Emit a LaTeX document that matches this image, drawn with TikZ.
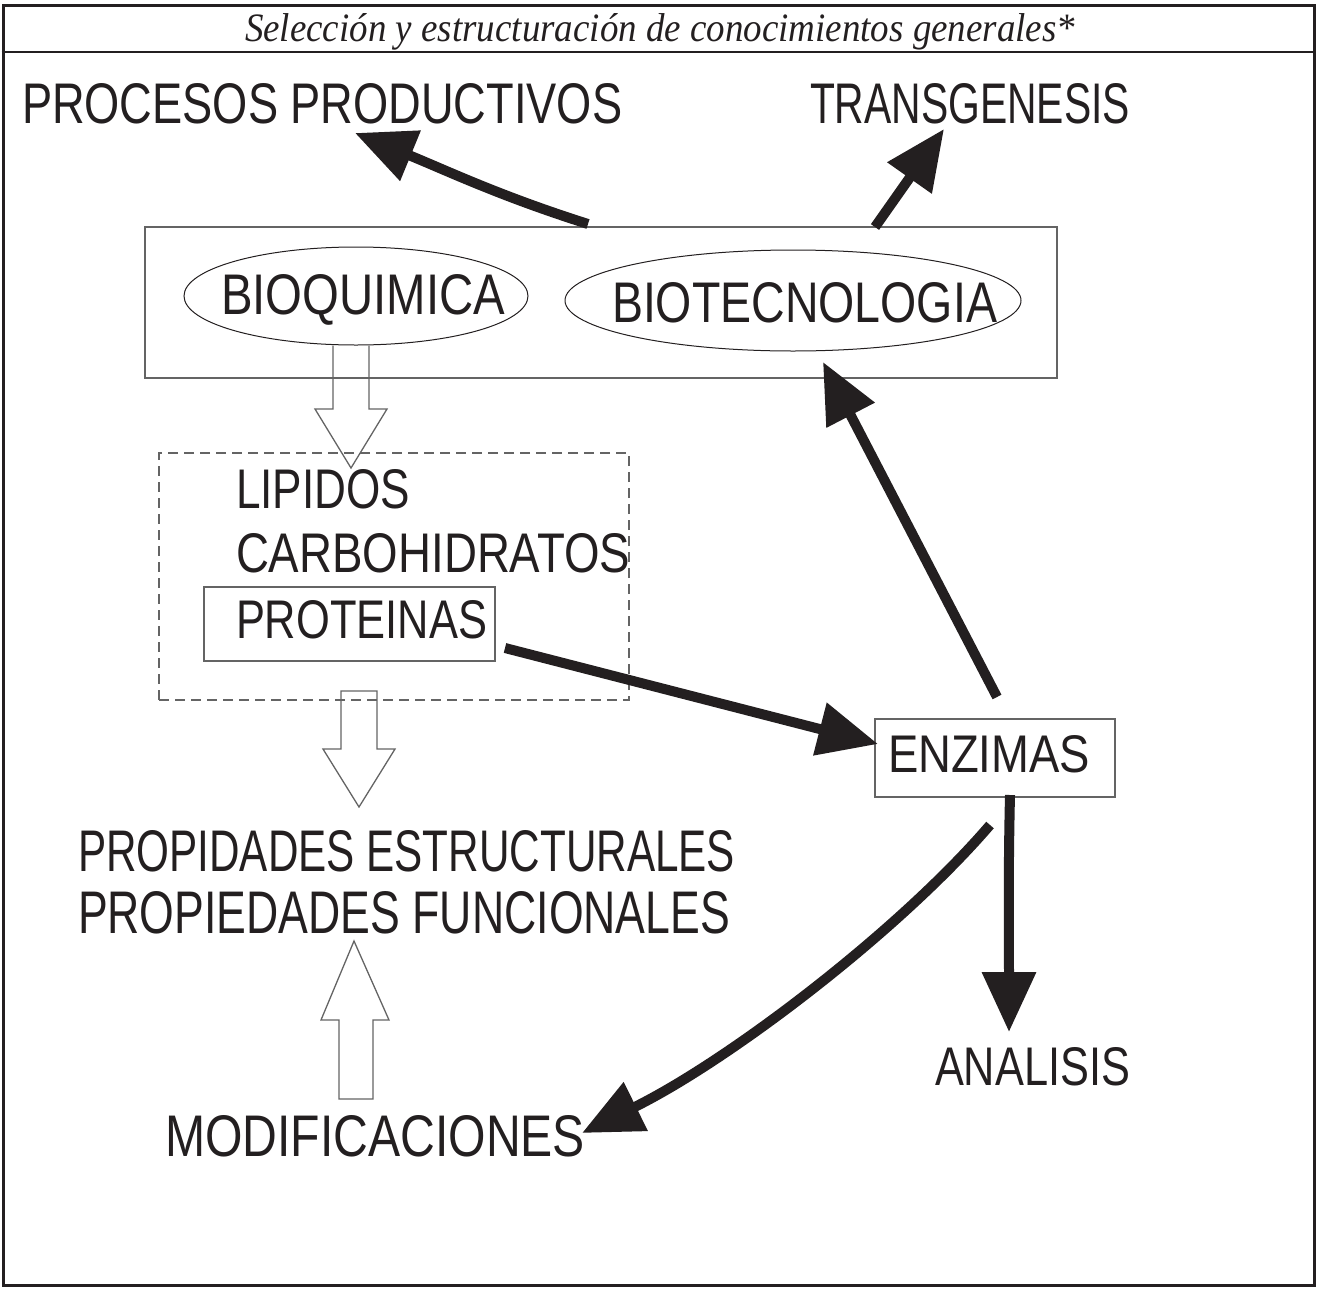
\documentclass[tikz,border=0pt]{standalone}
\usepackage{graphicx}
\usepackage{fontspec}
\setmainfont{Liberation Sans}
\newfontfamily\titlefont{Liberation Serif}
\usetikzlibrary{arrows.meta,shapes.geometric}
\definecolor{ink}{RGB}{35,31,32}
\definecolor{boxline}{RGB}{100,100,100}
\newcommand{\fitlbl}[3]{\resizebox{#1pt}{#2pt}{#3}}
\tikzset{
  lbl/.style={inner sep=0pt, outer sep=0pt, anchor=base west, text=ink},
  thinbox/.style={draw=boxline, line width=1.3pt, inner sep=0pt, rectangle},
  oval/.style={draw=ink, line width=1pt, ellipse, inner sep=0pt},
  hollow/.style={draw=boxline, line width=1.3pt},
  bigarrow/.style={draw=ink, line width=10pt, -{Triangle[length=60pt,width=52pt]}},
}
\begin{document}
\begin{tikzpicture}[x=1pt,y=-1pt]
\useasboundingbox (0,0) rectangle (1317,1288);
% frame
\node[draw=ink, line width=3pt, minimum width=1311pt, minimum height=1280pt, inner sep=0pt] (frame) at (658.5,645) {};
\draw[ink, line width=2.5pt] (frame.west |- 0,52) coordinate (tl) -- (frame.east |- 0,52) coordinate (tr);
\node[lbl] (title) at (245,41) {\fitlbl{830}{28}{\titlefont\itshape Selección y estructuración de conocimientos generales*}};

% top texts
\node[lbl] (procesos) at (22,123) {\fitlbl{600}{40}{PROCESOS PRODUCTIVOS}};
\node[lbl] (transg) at (810,123) {\fitlbl{320}{40}{TRANSGENESIS}};

% top box with ellipses
\node[thinbox, minimum width=912pt, minimum height=151pt] (topbox) at (601,302.5) {};
\node[oval, minimum width=344pt, minimum height=98pt] (bioq) at (356,296) {};
\node[oval, minimum width=456pt, minimum height=101pt] (biotec) at (793,300.5) {};
\node[lbl] (bioqt) at (221,314) {\fitlbl{284}{40}{BIOQUIMICA}};
\node[lbl] (biotect) at (612,322) {\fitlbl{385}{40}{BIOTECNOLOGIA}};

% dashed group
\node[draw=boxline, line width=1.3pt, dashed, dash pattern=on 10pt off 6pt, minimum width=470pt, minimum height=247pt, inner sep=0pt] (group) at (394,576.5) {};
\node[lbl] (lipidos) at (236,508) {\fitlbl{174}{39}{LIPIDOS}};
\node[lbl] (carbo) at (236,572) {\fitlbl{394}{39}{CARBOHIDRATOS}};
\node[thinbox, minimum width=291pt, minimum height=74pt] (protbox) at (349.5,624) {};
\node[lbl] (prot) at (236,638) {\fitlbl{251}{38}{PROTEINAS}};

% enzimas
\node[thinbox, minimum width=240pt, minimum height=78pt] (enz) at (995,758) {};
\node[lbl] (enzt) at (888,772) {\fitlbl{202}{37}{ENZIMAS}};
\node[lbl] (analisis) at (935,1085) {\fitlbl{195}{38}{ANALISIS}};

% properties
\node[lbl] (prop1) at (78,871) {\fitlbl{657}{41}{PROPIDADES ESTRUCTURALES}};
\node[lbl] (prop2) at (78,933) {\fitlbl{652}{42}{PROPIEDADES FUNCIONALES}};
\node[lbl] (modif) at (165,1156) {\fitlbl{420}{41}{MODIFICACIONES}};

% hollow arrows
\draw[hollow] (bioq.south -| 333,0) -- (333,409) -- (315,409) -- (351,468) -- (387,409) -- (369,409) -- (bioq.south -| 369,0);
\draw[hollow] (341,691) -- (341,749) -- (323,749) -- (359,807) -- (395,749) -- (377,749) -- (377,691) -- cycle;
\draw[hollow] (339,1099) -- (339,1020) -- (321,1020) -- (354,941) -- (389,1020) -- (373,1020) -- (373,1099) -- cycle;

% thick arrows
\coordinate (p1s) at (588,224);
\coordinate (p1e) at (355,133);
\draw[bigarrow] (p1s) .. controls (500,196) and (450,172) .. (p1e);
\coordinate (t1s) at (875,227);
\coordinate (t1e) at (944,129);
\draw[bigarrow] (t1s) -- (t1e);
\coordinate (e1s) at (997,697);
\coordinate (e1e) at (823,362);
\draw[bigarrow] (e1s) -- (e1e);
\coordinate (pr1s) at (505,648);
\coordinate (pr1e) at (878,744);
\draw[bigarrow] (pr1s) -- (pr1e);
\coordinate (an1s) at (1010,795);
\coordinate (an1e) at (1009,1032);
\draw[bigarrow] (an1s) .. controls (1008,880) and (1009,950) .. (an1e);
\coordinate (m1s) at (990,825);
\coordinate (m1e) at (582,1133);
\draw[bigarrow] (m1s) .. controls (900,930) and (730,1060) .. (m1e);
\end{tikzpicture}
\end{document}
